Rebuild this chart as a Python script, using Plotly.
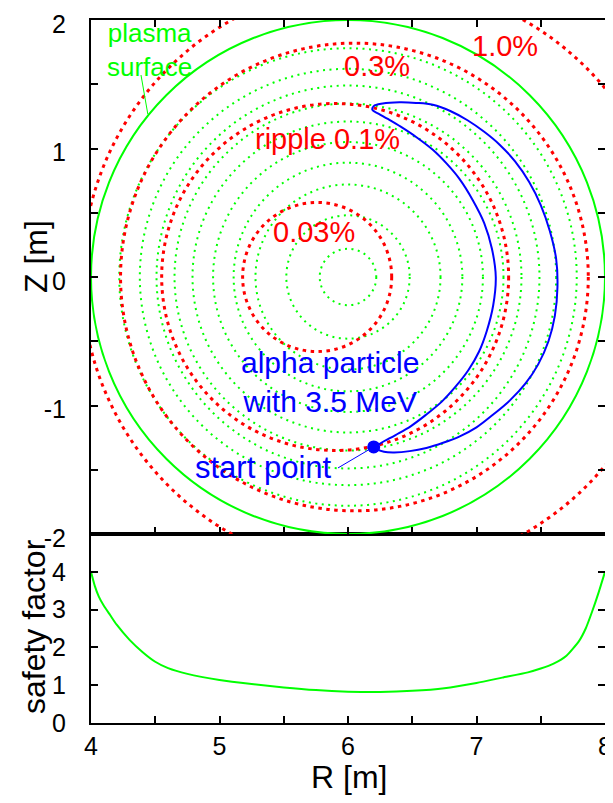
import plotly.graph_objects as go

# ---------------- data ----------------
# safety factor profile along the midplane
R_q = [4.0, 4.03, 4.06, 4.1, 4.15, 4.2, 4.3, 4.4, 4.5, 4.6, 4.75, 5.0, 5.25, 5.5, 5.75,
       6.0, 6.25, 6.5, 6.75, 7.0, 7.2, 7.4, 7.5, 7.6, 7.7, 7.8, 7.85, 7.9, 7.95, 8.0]
q_vals = [4.0, 3.62, 3.35, 3.1, 2.85, 2.6, 2.2, 1.88, 1.62, 1.45, 1.3, 1.14, 1.03, 0.94, 0.87,
          0.83, 0.82, 0.85, 0.92, 1.06, 1.2, 1.34, 1.44, 1.57, 1.78, 2.18, 2.5, 2.95, 3.45, 4.0]

# magnetic flux surfaces (circles about the axis)
flux_R0 = 6.0
flux_radii = [0.22, 0.48, 0.72, 0.89, 1.05, 1.21, 1.35, 1.49, 1.62, 1.78]
plasma_R0 = 6.0
plasma_radius = 2.0

# toroidal field ripple contours
ripple_labels = ["0.03%", "ripple 0.1%", "0.3%", "1.0%"]
ripple_R0 = [5.76, 5.90, 6.05, 6.23]
ripple_radius = [0.58, 1.35, 1.82, 2.30]

# alpha particle banana orbit
orbit_R = [6.22, 6.26, 6.37, 6.49, 6.61, 6.73, 6.84, 6.94, 7.02, 7.08,
           7.13, 7.15, 7.12, 7.06, 6.97, 6.87, 6.77, 6.66, 6.53, 6.41,
           6.31, 6.24, 6.19, 6.20, 6.27, 6.40, 6.53, 6.66, 6.80, 6.93,
           7.06, 7.18, 7.30, 7.41, 7.50, 7.57, 7.62, 7.63, 7.61, 7.56,
           7.48, 7.38, 7.26, 7.13, 7.00, 6.87, 6.74, 6.61, 6.48, 6.36,
           6.28, 6.23, 6.22]
orbit_Z = [-1.32, -1.29, -1.23, -1.16, -1.07, -0.97, -0.85, -0.72, -0.58, -0.42,
           -0.22, 0.0, 0.22, 0.42, 0.60, 0.76, 0.88, 0.99, 1.09, 1.17,
           1.23, 1.27, 1.30, 1.33, 1.35, 1.36, 1.355, 1.34, 1.29, 1.22,
           1.13, 1.03, 0.90, 0.74, 0.56, 0.36, 0.14, -0.08, -0.30, -0.50,
           -0.68, -0.83, -0.96, -1.07, -1.17, -1.24, -1.29, -1.33, -1.355, -1.365,
           -1.36, -1.34, -1.32]
start_R = [6.20]
start_Z = [-1.322]

# ticks
x_ticks = [4, 4.5, 5, 5.5, 6, 6.5, 7, 7.5, 8]
x_ticktext = ["4", "", "5", "", "6", "", "7", "", "8"]
z_ticks = [-2, -1.5, -1, -0.5, 0, 0.5, 1, 1.5, 2]
z_ticktext = ["-2", "", "-1", "", "0", "", "1", "", "2"]
q_ticks = [0, 1, 2, 3, 4]
q_ticktext = ["0", "1", "2", "3", "4"]

# ---------------- styling ----------------
GREEN = "#00ff00"
RED = "#ff0000"
BLUE = "#0000ff"
FONT = "Liberation Sans, Arial, Helvetica, sans-serif"

# the page body has an 8px margin, so the figure is drawn 8px right/down;
# keep the page from overflowing the 613x803 window
W, H = 605, 787
ml, mr, mt, mb = 83, 8, 12, 72
plot_w = W - ml - mr
plot_h = H - mt - mb
split = 189 / plot_h

fig = go.Figure()

fig.add_trace(go.Scatter(x=R_q, y=q_vals, mode="lines", xaxis="x", yaxis="y",
                         line=dict(color=GREEN, width=2, shape="spline", smoothing=0.6),
                         showlegend=False, hoverinfo="skip"))

fig.add_trace(go.Scatter(x=orbit_R, y=orbit_Z, mode="lines", xaxis="x2", yaxis="y2",
                         line=dict(color=BLUE, width=2, shape="spline", smoothing=1.0),
                         showlegend=False, hoverinfo="skip"))
fig.add_trace(go.Scatter(x=start_R, y=start_Z, mode="markers", xaxis="x2", yaxis="y2",
                         marker=dict(color=BLUE, size=13),
                         showlegend=False, hoverinfo="skip"))

shapes = []
for r in flux_radii:
    shapes.append(dict(type="circle", xref="x2", yref="y2", layer="below",
                       x0=flux_R0 - r, x1=flux_R0 + r, y0=-r, y1=r,
                       line=dict(color=GREEN, width=2, dash="2px,4.5px")))
shapes.append(dict(type="circle", xref="x2", yref="y2", layer="below",
                   x0=plasma_R0 - plasma_radius, x1=plasma_R0 + plasma_radius,
                   y0=-plasma_radius, y1=plasma_radius,
                   line=dict(color=GREEN, width=2)))
for c, r in zip(ripple_R0, ripple_radius):
    shapes.append(dict(type="circle", xref="x2", yref="y2", layer="below",
                       x0=c - r, x1=c + r, y0=-r, y1=r,
                       line=dict(color=RED, width=3, dash="3.5px,4.5px")))
# pointer lines
shapes.append(dict(type="line", xref="x2", yref="y2", x0=4.389, y0=1.572, x1=4.442, y1=1.268,
                   line=dict(color=GREEN, width=1)))
shapes.append(dict(type="line", xref="x2", yref="y2", x0=5.922, y0=-1.486, x1=start_R[0], y1=start_Z[0],
                   line=dict(color=BLUE, width=1)))

def ann(text, x, y, color, size):
    return dict(text=text, x=x, y=y, xref="x2", yref="y2", showarrow=False,
                xanchor="center", yanchor="middle", borderpad=0,
                font=dict(family=FONT, size=size, color=color))

annotations = [
    ann("plasma<br>surface", 4.455, 1.770, GREEN, 26),
    ann(ripple_labels[3], 7.222, 1.798, RED, 29),
    ann(ripple_labels[2], 6.226, 1.642, RED, 29),
    ann(ripple_labels[1], 5.844, 1.074, RED, 29),
    ann(ripple_labels[0], 5.735, 0.350, RED, 29),
    ann("alpha particle<br>with 3.5 MeV", 5.856, -0.817, BLUE, 30),
    ann("start point", 5.346, -1.486, BLUE, 31),
]

# axis titles, positioned relative to the plot area (viewport px -> paper)
def px2paper(px, py):
    return (px - 91) / plot_w, (723 - py) / plot_h

for text, px, py, ang in [("Z [m]", 36, 257, -90), ("safety factor", 34, 627, -90), ("R [m]", 349, 777, 0)]:
    xp, yp = px2paper(px, py)
    annotations.append(dict(text=text, x=xp, y=yp, xref="paper", yref="paper", showarrow=False,
                            xanchor="center", yanchor="middle", textangle=ang, borderpad=0,
                            font=dict(family=FONT, size=32, color="black")))

axis_common = dict(showgrid=False, zeroline=False, showline=True, linecolor="black", linewidth=2,
                   ticks="inside", ticklen=7, tickwidth=1.5, tickcolor="black",
                   ticklabeloverflow="allow", automargin=False,
                   tickfont=dict(family=FONT, size=25, color="black"))

fig.update_layout(
    width=W, height=H, margin=dict(l=ml, r=mr, t=mt, b=mb, autoexpand=False),
    paper_bgcolor="white", plot_bgcolor="white", showlegend=False,
    xaxis=dict(domain=[0, 1], anchor="y", range=[4, 8], tickmode="array",
               tickvals=x_ticks, ticktext=x_ticktext, mirror=True, ticklabelstandoff=0, **axis_common),
    yaxis=dict(domain=[0, split], anchor="x", range=[0, 5], tickmode="array",
               tickvals=q_ticks, ticktext=q_ticktext, mirror="ticks", ticklabelstandoff=18, **axis_common),
    xaxis2=dict(domain=[0, 1], anchor="y2", range=[4, 8], matches="x", tickmode="array",
                tickvals=x_ticks, ticktext=x_ticktext, showticklabels=False, mirror="ticks", **axis_common),
    yaxis2=dict(domain=[split, 1], anchor="x2", range=[-2, 2], tickmode="array",
                tickvals=z_ticks, ticktext=z_ticktext, mirror="ticks", ticklabelstandoff=18,
                ticklabelshift=4, **axis_common),
    shapes=shapes, annotations=annotations,
)

fig.write_html("out.html")
